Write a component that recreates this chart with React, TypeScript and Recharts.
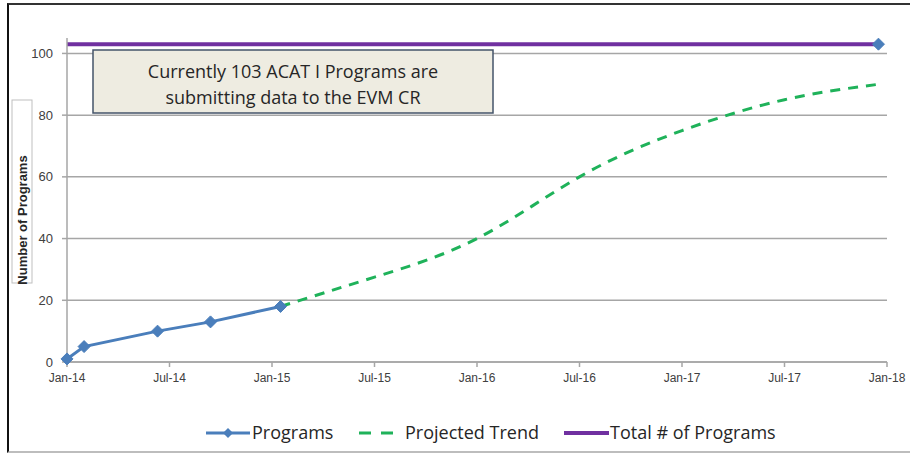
import React from "react";
import {
  ComposedChart,
  Line,
  XAxis,
  YAxis,
  CartesianGrid,
  Legend,
  Customized,
} from "recharts";

// months since Jan-14
const programMonths = [0, 1, 5.3, 8.4, 12.5];
const programValues = [1, 5, 10, 13, 18];

const trendMonths = [12.5, 18, 24, 30, 36, 42, 47.5];
const trendValues = [18, 27.5, 40, 60, 75, 85, 90];

const totalMonths = [0, 47.5];
const totalValues = [103, 103];

const xTicks = [0, 6, 12, 18, 24, 30, 36, 42, 48];
const xTickLabels = [
  "Jan-14",
  "Jul-14",
  "Jan-15",
  "Jul-15",
  "Jan-16",
  "Jul-16",
  "Jan-17",
  "Jul-17",
  "Jan-18",
];
const yTicks = [0, 20, 40, 60, 80, 100];

const noteLines = ["Currently 103 ACAT I Programs are", "submitting data to the EVM CR"];
const yAxisTitle = "Number of Programs";
const legendLabels = ["Programs", "Projected Trend", "Total # of Programs"];

const BLUE = "#4a7ebb";
const GREEN = "#1fb25a";
const PURPLE = "#7030a0";
const GRID = "#a6a6a6";
const TEXT = "#404040";
const FONT = "'Liberation Sans', Arial, sans-serif";
const FONT2 = "'Open Sans', 'Liberation Sans', sans-serif";

const programData = programMonths.map((m, i) => ({ m, v: programValues[i] }));
const trendData = trendMonths.map((m, i) => ({ m, v: trendValues[i] }));
const totalData = totalMonths.map((m, i) => ({ m, v: totalValues[i] }));

const Diamond = (props: any) => {
  const { cx, cy } = props;
  if (cx == null || cy == null) return null;
  const r = 6;
  return (
    <path
      d={`M${cx},${cy - r} L${cx + r},${cy} L${cx},${cy + r} L${cx - r},${cy} Z`}
      fill={BLUE}
      stroke={BLUE}
    />
  );
};

const LastDiamond = (props: any) => {
  if (props.index !== totalData.length - 1) return <g key={props.index} />;
  return <Diamond {...props} />;
};

const Annotations = () => (
  <g>
    <rect x={93} y={50} width={400} height={63} fill="#eeece1" stroke="#44546a" strokeWidth={1.5} />
    {noteLines.map((t, i) => (
      <text
        key={i}
        x={293}
        y={78 + i * 26}
        textAnchor="middle"
        fontFamily={FONT2}
        fontSize={18}
        fill="#262626"
      >
        {t}
      </text>
    ))}
    <rect x={12} y={100} width={20} height={183} fill="#ffffff" stroke="#bfbfbf" strokeWidth={1} />
    <text
      transform="translate(26.5,220) rotate(-90)"
      textAnchor="middle"
      fontFamily={FONT}
      fontSize={13}
      fontWeight="bold"
      fill="#262626"
    >
      {yAxisTitle}
    </text>
  </g>
);

const LegendContent = () => {
  const cy = 15;
  return (
    <svg width={910} height={30}>
      <line x1={206} y1={cy} x2={250} y2={cy} stroke={BLUE} strokeWidth={3} />
      <path d={`M228,${cy - 5} L233,${cy} L228,${cy + 5} L223,${cy} Z`} fill={BLUE} />
      <text x={252} y={cy + 6} fontFamily={FONT2} fontSize={18} fill="#262626">
        {legendLabels[0]}
      </text>
      <line x1={359} y1={cy} x2={393} y2={cy} stroke={GREEN} strokeWidth={3} strokeDasharray="12 10" />
      <text x={405} y={cy + 6} fontFamily={FONT2} fontSize={18} fill="#262626">
        {legendLabels[1]}
      </text>
      <line x1={564} y1={cy} x2={609} y2={cy} stroke={PURPLE} strokeWidth={4} />
      <text x={610} y={cy + 6} fontFamily={FONT2} fontSize={18} fill="#262626">
        {legendLabels[2]}
      </text>
    </svg>
  );
};

export default function App() {
  return (
    <div style={{ position: "absolute", left: 0, top: 0, width: 910, height: 453, background: "#fff" }}>
      <div
        style={{
          position: "absolute",
          left: 7,
          top: 3,
          width: 903,
          height: 446,
          borderLeft: "2px solid #111",
          borderTop: "2px solid #333",
          borderBottom: "2px solid #bdbdbd",
        }}
      />
      <ComposedChart
        width={910}
        height={453}
        margin={{ top: 38, right: 23, left: 0, bottom: 61 }}
        style={{ position: "absolute", left: 0, top: 0 }}
      >
        <CartesianGrid vertical={false} stroke={GRID} strokeWidth={1.5} horizontalValues={yTicks} />
        <XAxis
          dataKey="m"
          type="number"
          domain={[0, 48]}
          ticks={xTicks}
          tickFormatter={(v: number) => xTickLabels[xTicks.indexOf(v)]}
          height={30}
          stroke={GRID}
          strokeWidth={1.5}
          tickSize={5}
          tick={{ fill: TEXT, fontSize: 12, fontFamily: FONT }}
          tickMargin={6}
          allowDuplicatedCategory={false}
        />
        <YAxis
          type="number"
          domain={[0, 105]}
          ticks={yTicks}
          width={67}
          stroke={GRID}
          strokeWidth={1.5}
          tickSize={5}
          tickMargin={9}
          tick={{ fill: TEXT, fontSize: 13, fontFamily: FONT }}
        />
        <Line
          data={totalData}
          dataKey="v"
          type="linear"
          stroke={PURPLE}
          strokeWidth={4}
          dot={LastDiamond}
          activeDot={false}
          isAnimationActive={false}
          name="Total # of Programs"
        />
        <Line
          data={trendData}
          dataKey="v"
          type="natural"
          stroke={GREEN}
          strokeWidth={3}
          strokeDasharray="10 8"
          dot={false}
          activeDot={false}
          isAnimationActive={false}
          name="Projected Trend"
        />
        <Line
          data={programData}
          dataKey="v"
          type="linear"
          stroke={BLUE}
          strokeWidth={3}
          dot={Diamond}
          activeDot={false}
          isAnimationActive={false}
          name="Programs"
        />
        <Customized component={Annotations} />
        <Legend
          layout="horizontal"
          verticalAlign="middle"
          align="center"
          content={LegendContent}
          wrapperStyle={{ top: 418, left: 0, width: 910, height: 30 }}
        />
      </ComposedChart>
    </div>
  );
}
